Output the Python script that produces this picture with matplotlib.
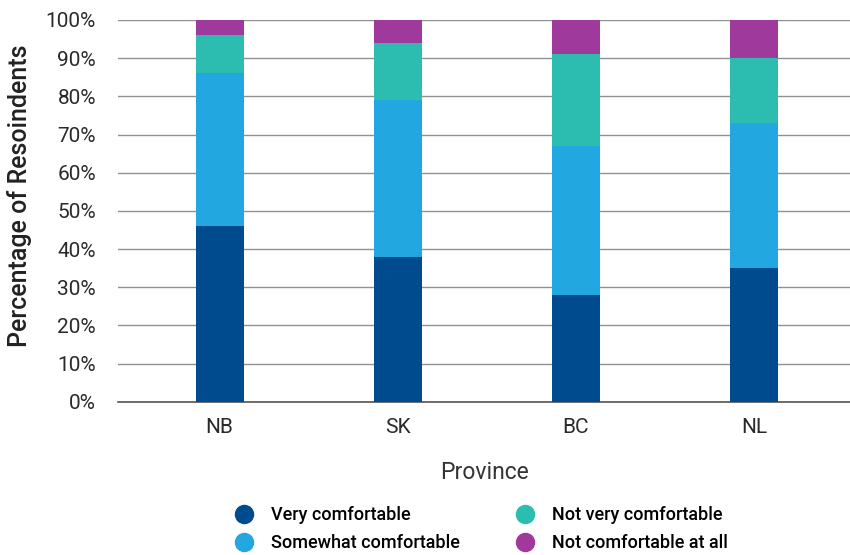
import matplotlib.pyplot as plt
from matplotlib.lines import Line2D
import numpy as np

plt.rcParams['font.family'] = ['Roboto', 'DejaVu Sans']

provinces = ["NB", "SK", "BC", "NL"]
very = [46, 38, 28, 35]
somewhat = [40, 41, 39, 38]
not_very = [10, 15, 24, 17]
not_at_all = [4, 6, 9, 10]

labels = ["Very comfortable", "Somewhat comfortable", "Not very comfortable", "Not comfortable at all"]
colors = ["#004B8D", "#22A7E0", "#2DBDB0", "#A0399C"]

fig = plt.figure(figsize=(8.5, 5.55), dpi=100)
ax = fig.add_axes([0.139, 0.276, 0.861, 0.688])

x = np.arange(len(provinces))
bottom = np.zeros(len(provinces))
for vals, c in zip([very, somewhat, not_very, not_at_all], colors):
    ax.bar(x, vals, bottom=bottom, width=0.27, color=c, zorder=3)
    bottom += np.array(vals)

ax.set_xlim(-0.57, 3.54)
ax.set_ylim(0, 100)
ax.set_yticks(np.arange(0, 101, 10))
ax.set_yticklabels([f"{v}%" for v in range(0, 101, 10)])
ax.set_xticks(x)
ax.set_xticklabels(provinces)
ax.tick_params(axis='both', labelsize=15, colors="#2a2a2a", length=0)
ax.tick_params(axis='y', pad=16)
ax.tick_params(axis='x', pad=12)
ax.grid(axis='y', color="#909090", linewidth=1.0, zorder=0)
for s in ["top", "right", "left"]:
    ax.spines[s].set_visible(False)
ax.spines["bottom"].set_color("#555555")
ax.spines["bottom"].set_linewidth(1.2)

ax.set_ylabel("Percentage of Resoindents", fontsize=18, color="#222222", fontweight='medium')
ax.yaxis.set_label_coords(-0.118, 0.54)
ax.set_xlabel("Province", fontsize=16.5, color="#333333", labelpad=17)

handles = [Line2D([0], [0], marker='o', linestyle='', markersize=13, markerfacecolor=c, markeredgecolor=c) for c in colors]
fig.legend(handles, labels, loc='center', bbox_to_anchor=(0.561, 0.047), ncol=2, frameon=False,
           columnspacing=2.6, handletextpad=0.5, labelspacing=0.55,
           prop={'family': ['Roboto', 'DejaVu Sans'], 'weight': 'medium', 'size': 13})

fig.savefig("out.png", dpi=100)
